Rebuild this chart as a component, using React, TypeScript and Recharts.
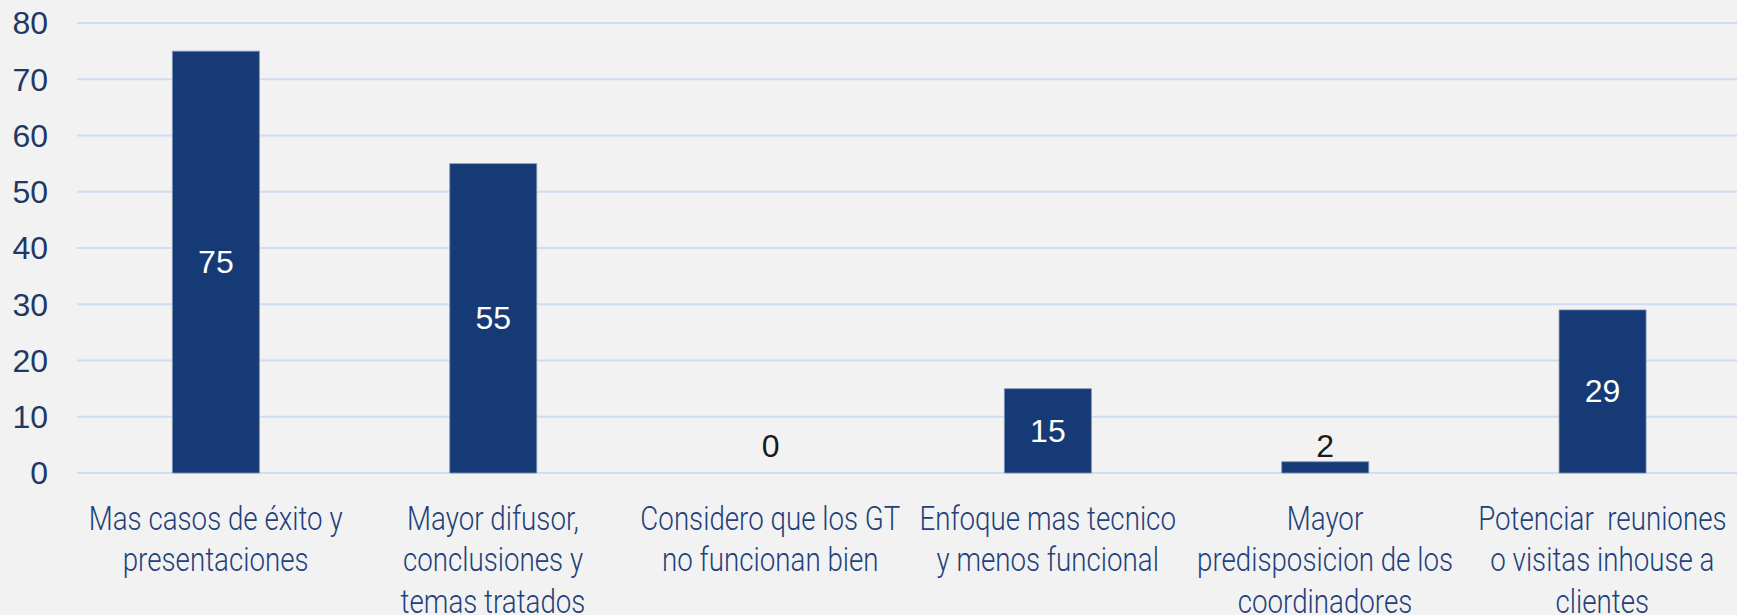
import React from 'react';
import { BarChart, Bar, XAxis, YAxis, CartesianGrid, Rectangle } from 'recharts';

const categories = [
  'Mas casos de éxito y presentaciones',
  'Mayor difusor, conclusiones y temas tratados',
  'Considero que los GT no funcionan bien',
  'Enfoque mas tecnico y menos funcional',
  'Mayor predisposicion de los coordinadores',
  'Potenciar  reuniones o visitas inhouse a clientes',
];

const categoryLines = [
  ['Mas casos de éxito y', 'presentaciones'],
  ['Mayor difusor,', 'conclusiones y', 'temas tratados'],
  ['Considero que los GT', 'no funcionan bien'],
  ['Enfoque mas tecnico', 'y menos funcional'],
  ['Mayor', 'predisposicion de los', 'coordinadores'],
  ['Potenciar  reuniones', 'o visitas inhouse a', 'clientes'],
];

const values = [75, 55, 0, 15, 2, 29];

const yTicks = [0, 10, 20, 30, 40, 50, 60, 70, 80];

const data = categories.map((name, i) => ({ name, value: values[i] }));

const BG = '#f2f2f2';
const BAR = '#153a75';
const AXIS_TEXT = '#1f3864';
const CAT_TEXT = '#23407a';
const GRID = '#cfdcf2';
const NUM_FONT = "'Liberation Sans', Arial, sans-serif";

const CatTick = (props: any) => {
  const { x, y, payload } = props;
  const lines = categoryLines[payload.index] || [String(payload.value)];
  return (
    <g transform={`translate(${x},${y}) scale(0.84,1)`}>
      <text
        x={0}
        y={0}
        textAnchor="middle"
        fill={CAT_TEXT}
        fontFamily="Roboto, 'Open Sans', sans-serif"
        fontWeight={300}
        fontSize={33}
        style={{ whiteSpace: 'pre' }}
      >
        {lines.map((l: string, j: number) => (
          <tspan key={j} x={0} dy={j === 0 ? 57 : 41.5}>
            {l}
          </tspan>
        ))}
      </text>
    </g>
  );
};

const BarWithLabel = (props: any) => {
  const { x, y, width, height, value } = props;
  const h = Number.isFinite(height) ? height : 0;
  const v = Array.isArray(value) ? value[1] - value[0] : value;
  const cx = x + width / 2;
  const fits = h >= 40;
  const cy = fits ? y + h / 2 : y + h - 27;
  return (
    <g>
      {h > 0 && (
        <Rectangle x={x} y={y} width={width} height={h} fill={BAR} stroke="#7f93b8" strokeWidth={0.8} />
      )}
      <text
        x={cx}
        y={cy}
        textAnchor="middle"
        dominantBaseline="central"
        fill={fits ? '#ffffff' : '#1a1a1a'}
        fontFamily={NUM_FONT}
        fontSize={32}
      >
        {v}
      </text>
    </g>
  );
};

export default function App() {
  return (
    <div
      style={{
        position: 'absolute',
        left: 0,
        top: 0,
        width: 1737,
        height: 615,
        background: BG,
        overflow: 'hidden',
      }}
    >
      <BarChart
        width={1737}
        height={615}
        data={data}
        margin={{ top: 23, right: -4, bottom: 0, left: 0 }}
        barCategoryGap="34.4%"
      >
        <CartesianGrid vertical={false} stroke={GRID} strokeWidth={2} />
        <XAxis
          dataKey="name"
          axisLine={false}
          tickLine={false}
          tickSize={0}
          tickMargin={0}
          height={142}
          interval={0}
          tick={<CatTick />}
        />
        <YAxis
          domain={[0, 80]}
          ticks={yTicks}
          axisLine={false}
          tickLine={false}
          tickSize={0}
          tickMargin={29}
          width={77}
          tick={{ fill: AXIS_TEXT, fontSize: 32, fontFamily: NUM_FONT }}
        />
        <Bar
          dataKey="value"
          fill={BAR}
          isAnimationActive={false}
          shape={<BarWithLabel />}
        />
      </BarChart>
    </div>
  );
}
